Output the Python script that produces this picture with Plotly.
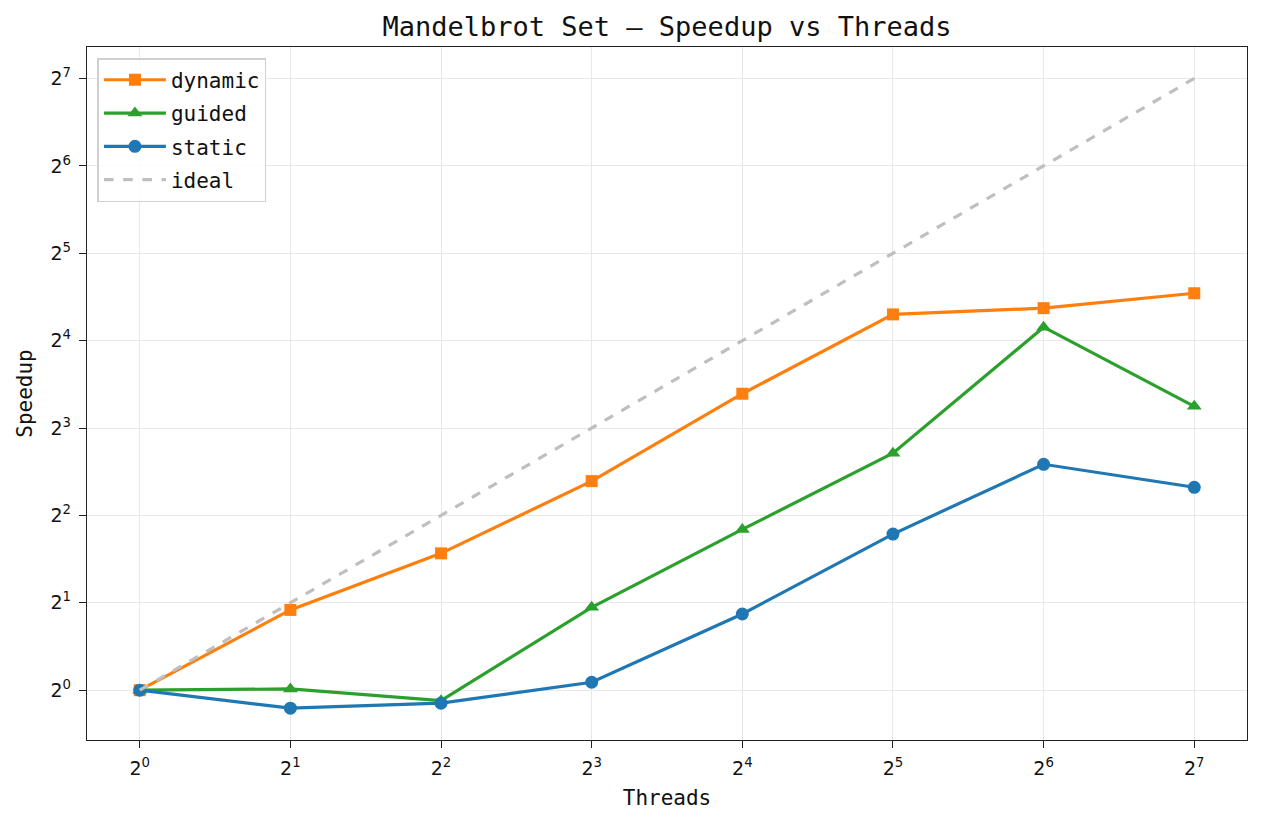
import plotly.graph_objects as go
import math

threads = [1, 2, 4, 8, 16, 32, 64, 128]
dynamic = [1.0, 1.89, 2.96, 5.25, 10.5, 19.7, 20.7, 23.3]
guided = [1.0, 1.01, 0.92, 1.93, 3.58, 6.55, 17.8, 9.5]
static = [1.0, 0.867, 0.902, 1.065, 1.83, 3.45, 6.0, 5.0]
ideal = threads

tick_vals = [2 ** i for i in range(8)]
tick_text = [f"2<sup>{i}</sup>" for i in range(8)]

MONO = "DejaVu Sans Mono"
SANS = "DejaVu Sans"

fig = go.Figure()
fig.add_trace(go.Scatter(x=threads, y=dynamic, name="dynamic", mode="lines+markers",
                         legendgroup="a",
                         line=dict(color="#ff7f0e", width=3.2),
                         marker=dict(symbol="square", size=12, color="#ff7f0e")))
fig.add_trace(go.Scatter(x=threads, y=guided, name="guided", mode="lines+markers",
                         legendgroup="b",
                         line=dict(color="#2ca02c", width=3.2),
                         marker=dict(symbol="triangle-up", size=13, color="#2ca02c")))
fig.add_trace(go.Scatter(x=threads, y=static, name="static", mode="lines+markers",
                         legendgroup="c",
                         line=dict(color="#1f77b4", width=3.2),
                         marker=dict(symbol="circle", size=13, color="#1f77b4")))
fig.add_trace(go.Scatter(x=threads, y=ideal, name="ideal", mode="lines",
                         legendgroup="d",
                         line=dict(color="#bfbfbf", width=3.2, dash="dash")))

axis_common = dict(
    type="log", tickvals=tick_vals, ticktext=tick_text,
    showgrid=True, gridcolor="#e8e8e8", gridwidth=1.2,
    showline=True, linecolor="#222222", linewidth=1.4, mirror=True,
    ticks="outside", ticklen=7, tickwidth=1.4, tickcolor="#222222",
    tickfont=dict(family=SANS, size=19, color="#111111"),
    ticklabelstandoff=4,
    zeroline=False,
)

fig.update_layout(
    width=1263, height=826,
    paper_bgcolor="white", plot_bgcolor="white",
    margin=dict(l=87, r=16, t=47, b=86),
    title=dict(text="Mandelbrot Set — Speedup vs Threads", x=0.5, xanchor="center",
               xref="paper", y=0.968, yanchor="middle",
               font=dict(family=MONO, size=27, color="#111111")),
    font=dict(family=MONO, color="#111111"),
    xaxis=dict(range=[math.log10(2) * -0.35, math.log10(2) * 7.35],
               title=dict(text="Threads", font=dict(family=MONO, size=21), standoff=12),
               **axis_common),
    yaxis=dict(range=[math.log10(2) * -0.57, math.log10(2) * 7.36],
               title=dict(text="Speedup", font=dict(family=MONO, size=21), standoff=12),
               **axis_common),
    legend=dict(x=0.009, y=0.984, xanchor="left", yanchor="top",
                bgcolor="rgba(255,255,255,0.8)", bordercolor="#d0d0d0", borderwidth=1.5,
                font=dict(family=MONO, size=21, color="#111111"),
                itemwidth=62, tracegroupgap=3),
    showlegend=True,
)

fig.write_html("out.html", config={"displayModeBar": False},
               post_script="document.body.style.margin='0';")
